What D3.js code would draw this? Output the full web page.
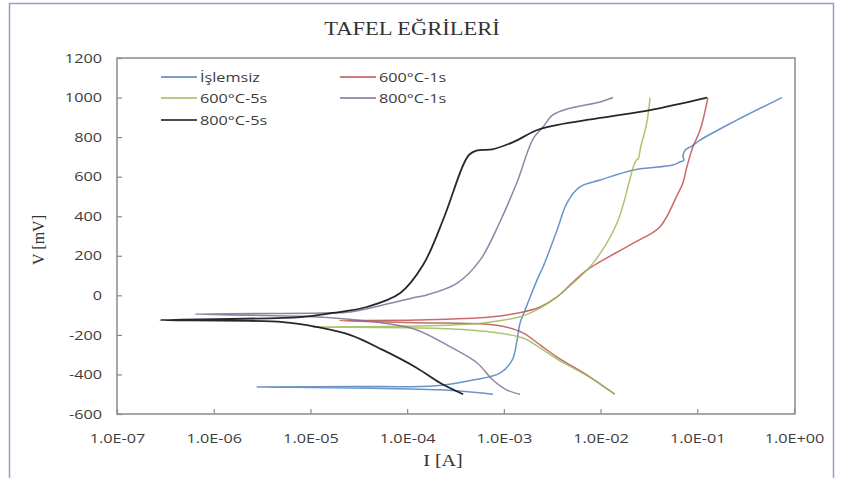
<!DOCTYPE html>
<html>
<head>
<meta charset="utf-8">
<script src="https://cdn.jsdelivr.net/npm/d3@7"></script>
<style>
  body { margin: 0; background: #fff; }
  svg { display: block; }
</style>
</head>
<body>
<svg id="chart" width="841" height="478"></svg>
<script>
// tick values and labels
const xTicks = [1e-7, 1e-6, 1e-5, 1e-4, 1e-3, 1e-2, 1e-1, 1e0];
const xTickLabels = ["1.0E-07", "1.0E-06", "1.0E-05", "1.0E-04", "1.0E-03", "1.0E-02", "1.0E-01", "1.0E+00"];
const yTicks = [-600, -400, -200, 0, 200, 400, 600, 800, 1000, 1200];

const seriesNames = ["İşlemsiz", "600°C-1s", "600°C-5s", "800°C-1s", "800°C-5s"];
const seriesColors = ["#4f81bd", "#c0504d", "#9bbb59", "#7e6f98", "#111111"];

// [I (A), V (mV)], from cathodic end -> Ecorr -> anodic end
const islemsiz = [
  [7.7e-4, -500], [4.0e-4, -486], [2.2e-4, -478], [2.6e-5, -468], [2.8e-6, -463],
  [3.0e-5, -461], [2.0e-4, -457], [4.8e-4, -428], [9.1e-4, -393], [1.22e-3, -327],
  [1.37e-3, -226], [1.47e-3, -140], [1.66e-3, -74], [2.2e-3, 77], [2.54e-3, 143],
  [3.55e-3, 330], [4.5e-3, 467], [6.1e-3, 548], [9.9e-3, 583], [2.2e-2, 634],
  [5.6e-2, 659], [6.6e-2, 674], [7.3e-2, 684], [7.1e-2, 700], [7.5e-2, 735],
  [8.8e-2, 755], [0.107, 785], [0.234, 876], [0.75, 1000]
];
const c600_1s = [
  [1.4e-2, -500], [7.8e-3, -413], [3.55e-3, -312], [2.37e-3, -251], [1.58e-3, -190],
  [1.05e-3, -160], [7.2e-4, -147], [1.26e-4, -138], [2.0e-5, -128],
  [1.26e-4, -125], [7.2e-4, -110], [1.58e-3, -84], [2.37e-3, -59], [3.55e-3, -8],
  [5.2e-3, 67], [7.2e-3, 128], [2.2e-2, 265], [4.1e-2, 346], [6.2e-2, 507],
  [7.1e-2, 568], [7.8e-2, 649], [9.0e-2, 750], [0.107, 836], [0.129, 1000]
];
const c600_5s = [
  [1.4e-2, -500], [7.8e-3, -416], [3.55e-3, -322], [2.37e-3, -266], [1.58e-3, -216],
  [7.2e-4, -185], [2.2e-4, -168], [1.06e-5, -160],
  [1.26e-4, -155], [6.1e-4, -140], [1.58e-3, -104], [2.37e-3, -64], [3.55e-3, -8],
  [5.2e-3, 62], [8.4e-3, 164], [1.48e-2, 366], [2.0e-2, 583], [2.2e-2, 655],
  [2.35e-2, 684], [2.45e-2, 690], [2.6e-2, 750], [3.0e-2, 871], [3.25e-2, 1000]
];
const c800_1s = [
  [1.47e-3, -500], [1.08e-3, -479], [7.7e-4, -428], [5.3e-4, -342], [2.8e-4, -261],
  [1.26e-4, -175], [5.6e-5, -140], [1.17e-5, -110], [6.4e-7, -95],
  [1.35e-5, -89], [2.6e-5, -84], [5.6e-5, -49], [1.26e-4, -8], [1.6e-4, 2],
  [3.3e-4, 62], [5.7e-4, 179], [9.1e-4, 371], [1.37e-3, 573], [2.0e-3, 790],
  [2.54e-3, 851], [3.2e-3, 912], [4.5e-3, 942], [9.9e-3, 978], [1.35e-2, 1000]
];
const c800_5s = [
  [3.8e-4, -500], [2.2e-4, -443], [1.26e-4, -367], [5.6e-5, -276], [2.6e-5, -201],
  [1.17e-5, -160], [5.2e-6, -135], [2.8e-7, -125],
  [7.8e-6, -110], [1.7e-5, -89], [3.8e-5, -59], [8.5e-5, 12], [1.46e-4, 153],
  [2.35e-4, 381], [3.8e-4, 659], [4.4e-4, 712], [5.3e-4, 733], [7.6e-4, 738],
  [1.25e-3, 775], [2.37e-3, 841], [9.9e-3, 897], [3.25e-2, 937], [0.126, 1000]
];
const seriesData = [islemsiz, c600_1s, c600_5s, c800_1s, c800_5s];

const svg = d3.select("#chart");
const sansFont = "'Open Sans', 'Liberation Sans', sans-serif";
const serifFont = "'Liberation Serif', 'DejaVu Serif', serif";
const stretch = 1.25; // picture is stretched sideways

// outer frame
svg.append("path")
    .attr("d", "M9.5,478 L9.5,3.5 L833.5,3.5 L833.5,478")
    .attr("fill", "none")
    .attr("stroke", "#9b9bc8")
    .attr("stroke-width", 1.5);

const x = d3.scaleLog().domain([1e-7, 1]).range([117, 794]);
const y = d3.scaleLinear().domain([-600, 1200]).range([414, 58]);

// title
svg.append("text")
    .attr("transform", `translate(412,35) scale(${stretch},1)`)
    .attr("text-anchor", "middle")
    .attr("font-family", serifFont)
    .attr("font-size", 18)
    .attr("fill", "#333")
    .text("TAFEL EĞRİLERİ");

// axes
const xAxis = svg.append("g")
    .attr("transform", `translate(0,${y(-600)})`)
    .call(d3.axisBottom(x)
        .tickValues(xTicks)
        .tickFormat((d, i) => xTickLabels[i])
        .tickSizeInner(-5)
        .tickSizeOuter(0)
        .tickPadding(20));

const yAxis = svg.append("g")
    .attr("transform", `translate(${x(1e-7)},0)`)
    .call(d3.axisLeft(y)
        .tickValues(yTicks)
        .tickFormat(d => String(d))
        .tickSizeInner(-5)
        .tickSizeOuter(0)
        .tickPadding(15));

[xAxis, yAxis].forEach(g => {
    g.select(".domain").remove();
    g.selectAll(".tick line").attr("stroke", "#8a8a8a").attr("stroke-width", 1.2);
    g.selectAll(".tick text")
        .attr("font-family", sansFont)
        .attr("font-size", 13)
        .attr("fill", "#3c3c3c");
});
xAxis.selectAll(".tick text").attr("transform", `scale(${stretch},1)`);
yAxis.selectAll(".tick text")
    .attr("x", -15 / stretch)
    .attr("transform", `scale(${stretch},1)`);

// plot frame
svg.append("rect")
    .attr("x", x(1e-7))
    .attr("y", y(1200))
    .attr("width", 795 - x(1e-7))
    .attr("height", y(-600) - y(1200))
    .attr("fill", "none")
    .attr("stroke", "#8a8a8a")
    .attr("stroke-width", 1.5);

// axis titles
svg.append("text")
    .attr("transform", "translate(44,240) rotate(-90)")
    .attr("text-anchor", "middle")
    .attr("font-family", serifFont)
    .attr("font-size", 16)
    .attr("fill", "#333")
    .text("V [mV]");

svg.append("text")
    .attr("transform", `translate(443,466) scale(${stretch},1)`)
    .attr("text-anchor", "middle")
    .attr("font-family", serifFont)
    .attr("font-size", 16)
    .attr("fill", "#333")
    .text("I [A]");

// curves
const line = d3.line()
    .x(d => x(d[0]))
    .y(d => y(d[1]))
    .curve(d3.curveCatmullRom.alpha(0.5));

svg.append("g")
    .selectAll("path")
    .data(seriesData)
    .join("path")
    .attr("d", line)
    .attr("fill", "none")
    .attr("stroke", (d, i) => seriesColors[i])
    .attr("stroke-width", (d, i) => i === 4 ? 1.8 : 1.5)
    .attr("stroke-opacity", (d, i) => i === 4 ? 0.9 : 0.85)
    .attr("stroke-linejoin", "round");

// legend
const legendPos = [[161, 77], [340, 77], [161, 98], [340, 98], [161, 120]];
const legend = svg.append("g")
    .selectAll("g")
    .data(seriesNames)
    .join("g")
    .attr("transform", (d, i) => `translate(${legendPos[i][0]},${legendPos[i][1]})`);

legend.append("line")
    .attr("x1", 0)
    .attr("x2", 36)
    .attr("stroke", (d, i) => seriesColors[i])
    .attr("stroke-width", 1.5);

legend.append("text")
    .attr("transform", `translate(39,4.5) scale(${stretch},1)`)
    .attr("font-family", sansFont)
    .attr("font-size", 13)
    .attr("fill", "#3c3c3c")
    .text(d => d);
</script>
</body>
</html>
